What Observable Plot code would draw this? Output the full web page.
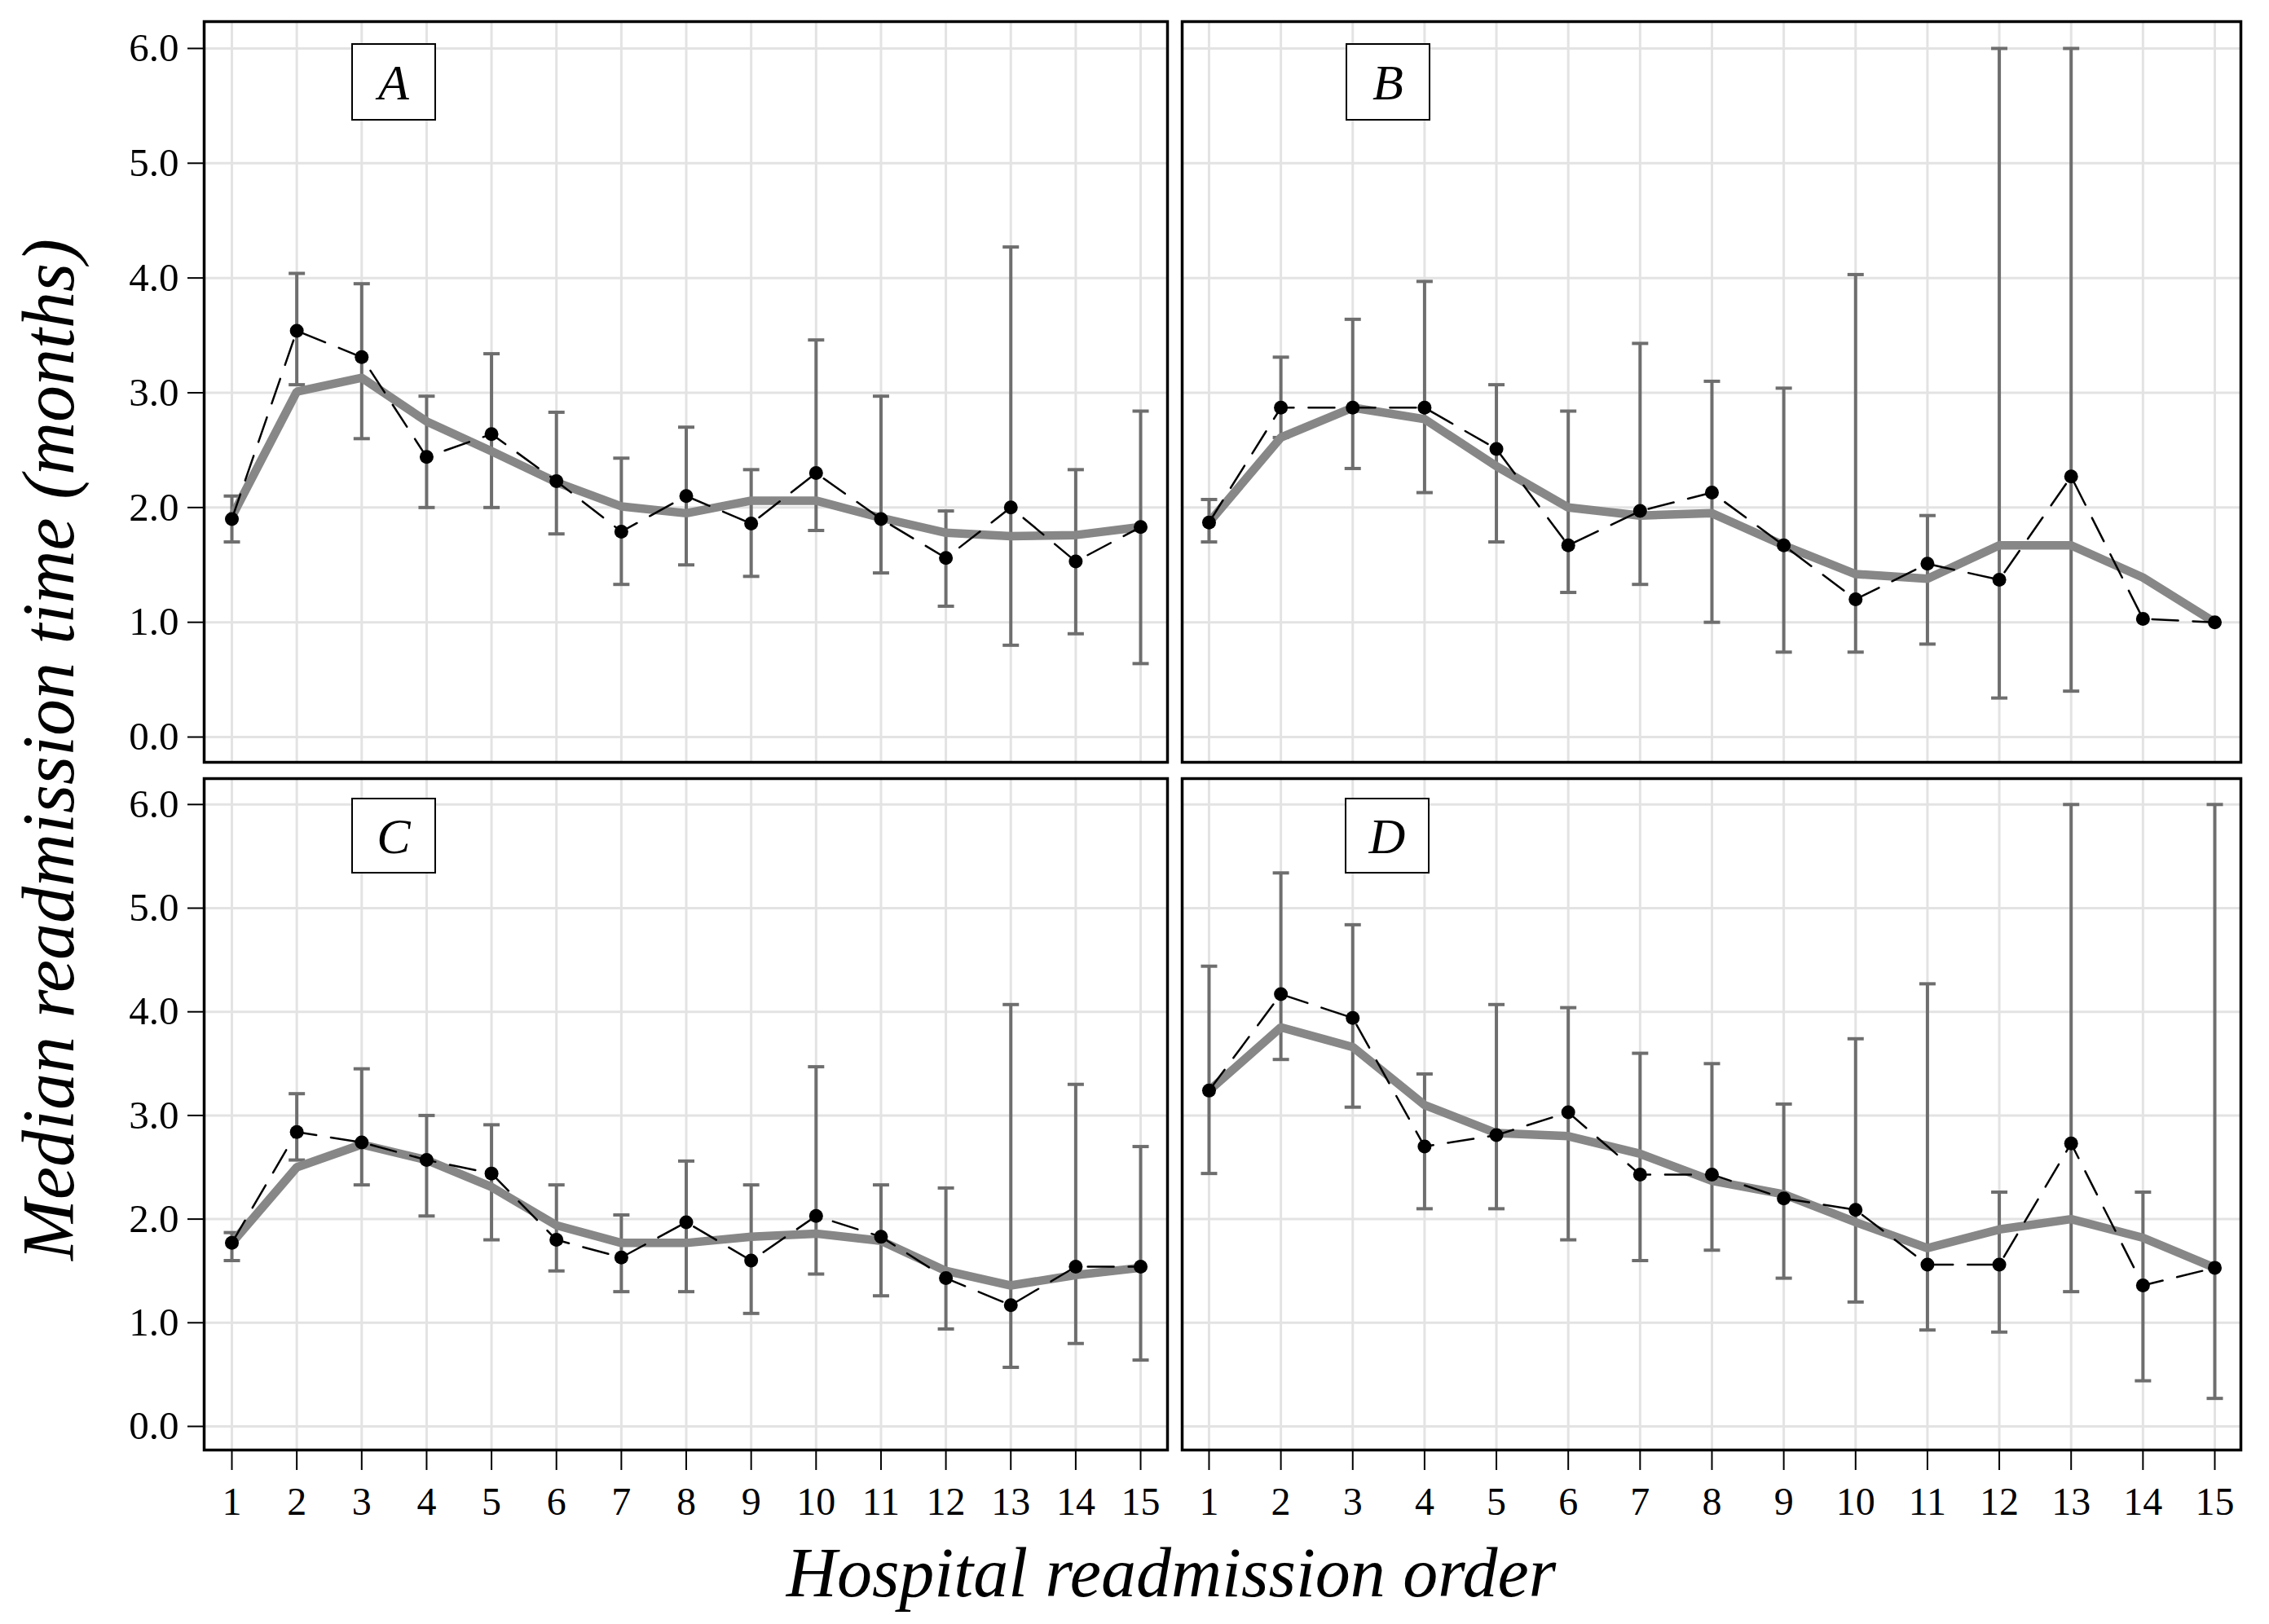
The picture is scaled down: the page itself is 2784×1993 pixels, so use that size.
<!DOCTYPE html>
<html><head><meta charset="utf-8">
<script src="https://cdn.jsdelivr.net/npm/d3@7"></script>
<script src="https://cdn.jsdelivr.net/npm/@observablehq/plot@0.6"></script>
<style>
html,body{margin:0;padding:0;background:#fff;}
#chart{position:relative;width:2784px;height:1993px;background:#fff;font-family:'Liberation Serif','Times New Roman',serif;overflow:hidden;}
.panel{position:absolute;}
.panel svg{overflow:visible;display:block;}
.tag{position:absolute;box-sizing:border-box;border:2.5px solid #000;background:#fff;display:flex;align-items:center;justify-content:center;font-style:italic;font-size:62px;font-family:'Liberation Serif',serif;line-height:1;color:#000;}
.ytitle{position:absolute;left:60px;top:920px;transform:translate(-50%,-50%) rotate(-90deg);white-space:nowrap;font-style:italic;font-size:90px;line-height:1;font-family:'Liberation Serif',serif;color:#000;}
.xtitle{position:absolute;left:1437px;top:1887px;transform:translateX(-50%);white-space:nowrap;font-style:italic;font-size:86px;line-height:1;font-family:'Liberation Serif',serif;color:#000;}
</style></head>
<body><div id="chart"></div>
<script>
// ---------- data ----------
const orders = [1,2,3,4,5,6,7,8,9,10,11,12,13,14,15];
const yTicks = [0,1,2,3,4,5,6];
const panelNames = ["A","B","C","D"];

const medianA = [1.90,3.54,3.31,2.44,2.64,2.23,1.79,2.10,1.86,2.30,1.90,1.56,2.00,1.53,1.83];
const lowerA  = [1.70,3.07,2.60,2.00,2.00,1.77,1.33,1.50,1.40,1.80,1.43,1.14,0.80,0.90,0.64];
const upperA  = [2.10,4.04,3.95,2.97,3.34,2.83,2.43,2.70,2.33,3.46,2.97,1.97,4.27,2.33,2.84];
const smoothA = [1.92,3.01,3.13,2.75,2.49,2.22,2.01,1.95,2.06,2.06,1.91,1.78,1.75,1.76,1.83];

const medianB = [1.87,2.87,2.87,2.87,2.51,1.67,1.97,2.13,1.67,1.20,1.51,1.37,2.27,1.03,1.00];
const lowerB  = [1.70,2.61,2.34,2.13,1.70,1.26,1.33,1.00,0.74,0.74,0.81,0.34,0.40,null,null];
const upperB  = [2.07,3.31,3.64,3.97,3.07,2.84,3.43,3.10,3.04,4.03,1.93,6.00,6.00,null,null];
const smoothB = [1.87,2.61,2.87,2.77,2.36,2.00,1.93,1.95,1.67,1.42,1.38,1.67,1.67,1.39,1.00];

const medianC = [1.77,2.84,2.74,2.57,2.44,1.80,1.63,1.97,1.60,2.03,1.83,1.43,1.17,1.54,1.54];
const lowerC  = [1.60,2.57,2.33,2.03,1.80,1.50,1.30,1.30,1.09,1.47,1.26,0.94,0.57,0.80,0.64];
const upperC  = [1.87,3.21,3.45,3.00,2.91,2.33,2.04,2.56,2.33,3.47,2.33,2.30,4.07,3.30,2.70];
const smoothC = [1.77,2.50,2.72,2.57,2.31,1.94,1.77,1.77,1.83,1.86,1.79,1.50,1.36,1.46,1.53];

const medianD = [3.24,4.17,3.94,2.70,2.81,3.03,2.43,2.43,2.20,2.09,1.56,1.56,2.73,1.36,1.53];
const lowerD  = [2.44,3.54,3.08,2.10,2.10,1.80,1.60,1.70,1.43,1.20,0.93,0.91,1.30,0.44,0.27];
const upperD  = [4.44,5.34,4.84,3.40,4.07,4.04,3.60,3.50,3.11,3.74,4.27,2.26,6.00,2.26,6.00];
const smoothD = [3.24,3.85,3.66,3.10,2.83,2.80,2.63,2.37,2.24,1.97,1.72,1.90,2.00,1.82,1.53];

const xTitle = "Hospital readmission order";
const yTitle = "Median readmission time (months)";

// ---------- build ----------
const rows = (med, lo, hi, sm) => orders.map((o, i) => ({order: o, median: med[i], lo: lo[i], hi: hi[i], smooth: sm[i]}));
const capSymbol = {draw(ctx) { ctx.moveTo(-10, 0); ctx.lineTo(10, 0); }};
const fmt = d3.format(".1f");

function panel(data, o) {
  const marks = [
    Plot.gridX(orders, {stroke: "#e3e3e3", strokeOpacity: 1, strokeWidth: 3}),
    Plot.gridY(yTicks, {stroke: "#e3e3e3", strokeOpacity: 1, strokeWidth: 3}),
    Plot.ruleX(data, {x: "order", y1: "lo", y2: "hi", stroke: "#6e6e6e", strokeWidth: 4}),
    Plot.dot(data, {x: "order", y: "lo", symbol: capSymbol, r: 5, stroke: "#6e6e6e", strokeWidth: 4, fill: "none"}),
    Plot.dot(data, {x: "order", y: "hi", symbol: capSymbol, r: 5, stroke: "#6e6e6e", strokeWidth: 4, fill: "none"}),
    Plot.line(data, {x: "order", y: "smooth", stroke: "#878787", strokeWidth: 10.5, strokeLinejoin: "miter"}),
    Plot.line(data, {x: "order", y: "median", stroke: "#000", strokeWidth: 2.5, strokeDasharray: "32,18"}),
    Plot.dot(data, {x: "order", y: "median", r: 8.5, fill: "#000", stroke: "none"}),
    Plot.frame({stroke: "#000", strokeWidth: 3.5})
  ];
  if (o.showY) marks.push(Plot.axisY(yTicks, {tickSize: 20, tickPadding: 11, tickFormat: fmt, fontSize: 49, strokeWidth: 2, label: null}));
  if (o.showX) marks.push(Plot.axisX(orders, {tickSize: 25, tickPadding: 20, fontSize: 48, strokeWidth: 2, label: null}));
  return Plot.plot({
    width: o.w, height: o.h,
    marginLeft: o.ml, marginRight: o.mr, marginTop: o.mt, marginBottom: o.mb,
    style: {fontFamily: "'Liberation Serif', serif", background: "transparent", overflow: "visible", color: "#000"},
    x: {domain: o.xd, axis: null},
    y: {domain: o.yd, axis: null},
    marks
  });
}

const chart = document.getElementById("chart");
function place(node, left, top) {
  const d = document.createElement("div");
  d.className = "panel";
  d.style.left = left + "px"; d.style.top = top + "px";
  d.appendChild(node); chart.appendChild(d);
}

const topY = [-0.220, 6.234];
const botY = [-0.228, 6.25];
const leftX = [0.573, 15.414];
const rightX = [0.626, 15.363];

place(panel(rows(medianA, lowerA, upperA, smoothA), {w: 1440, h: 940, ml: 250, mr: 8, mt: 26, mb: 5, xd: leftX, yd: topY, showY: true, showX: false}), 0, 0);
place(panel(rows(medianB, lowerB, upperB, smoothB), {w: 1340, h: 940, ml: 10, mr: 31, mt: 26, mb: 5, xd: rightX, yd: topY, showY: false, showX: false}), 1440, 0);
place(panel(rows(medianC, lowerC, upperC, smoothC), {w: 1440, h: 935, ml: 250, mr: 8, mt: 10, mb: 101, xd: leftX, yd: botY, showY: true, showX: true}), 0, 945);
place(panel(rows(medianD, lowerD, upperD, smoothD), {w: 1340, h: 935, ml: 10, mr: 31, mt: 10, mb: 101, xd: rightX, yd: botY, showY: false, showX: true}), 1440, 945);

// panel tags
const tagBoxes = [[431, 53], [1651, 53], [431, 979], [1650, 979]];
panelNames.forEach((name, i) => {
  const t = document.createElement("div");
  t.className = "tag";
  t.textContent = name;
  t.style.left = tagBoxes[i][0] + "px"; t.style.top = tagBoxes[i][1] + "px";
  t.style.width = "104px"; t.style.height = (i < 2 ? 95 : 93) + "px";
  chart.appendChild(t);
});

const yt = document.createElement("div"); yt.className = "ytitle"; yt.textContent = yTitle; chart.appendChild(yt);
const xt = document.createElement("div"); xt.className = "xtitle"; xt.textContent = xTitle; chart.appendChild(xt);
</script>
</body></html>
